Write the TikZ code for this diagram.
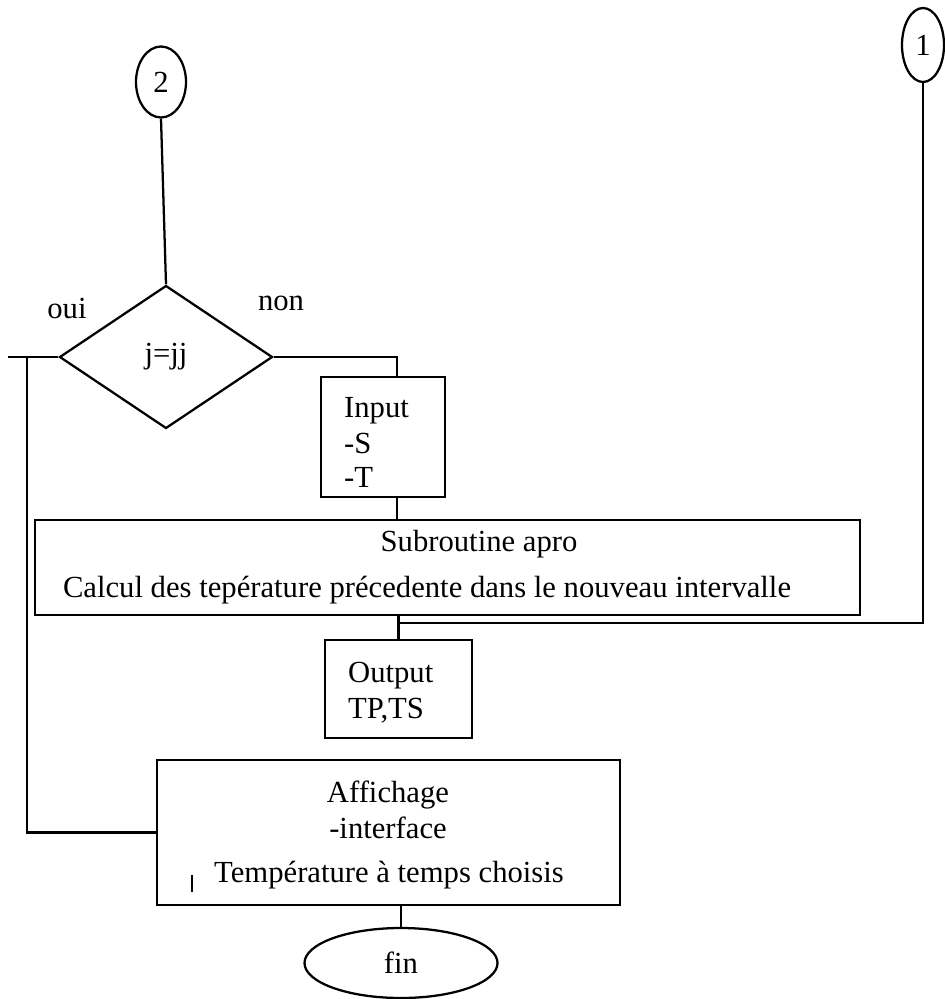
\documentclass[tikz,border=0pt]{standalone}
\usepackage{fontspec}
\setmainfont{Liberation Serif}
\usetikzlibrary{shapes.geometric}
\begin{document}
\begin{tikzpicture}[x=0.75pt,y=-0.75pt,
  line width=1.7pt,
  every node/.style={font=\fontsize{23}{27}\selectfont, inner sep=0pt},
  box/.style={draw, rectangle},
  oval/.style={draw, ellipse},
  txt/.style={anchor=base},
  ltxt/.style={anchor=base west}]
\useasboundingbox (0,0) rectangle (945,999);
% connectors' terminals
\node[oval, minimum width=37.5pt, minimum height=53.25pt] (c2) at (161,82) {2};
\node[oval, minimum width=31.5pt, minimum height=55.5pt] (c1) at (923,45) {1};
% decision
\node[draw, diamond, minimum width=159.75pt, minimum height=107.25pt] (d) at (166,357) {j=jj};
\node (oui) at (67,308) {oui};
\node (non) at (281,303) {non};
% boxes
\node[box, minimum width=93pt, minimum height=90pt] (inp) at (383,437) {};
\node[box, minimum width=618.75pt, minimum height=71.25pt] (sub) at (447.5,567.5) {};
\node[box, minimum width=110.25pt, minimum height=73.5pt] (out) at (398.5,689) {};
\node[box, minimum width=347.25pt, minimum height=108.75pt] (aff) at (388.5,832.5) {};
\node[oval, minimum width=144.75pt, minimum height=52.5pt] (fin) at (401,963) {fin};
% texts
\node[ltxt] (tin1) at (343,417) {Input};
\node[ltxt] (tin2) at (343,453) {-S};
\node[ltxt] (tin3) at (343,487) {-T};
\node[txt] (ts1) at (479,551) {Subroutine apro};
\node[txt] (ts2) at (427,597) {Calcul des tepérature précedente dans le nouveau intervalle};
\node[ltxt] (to1) at (347,682) {Output};
\node[ltxt] (to2) at (347,718) {TP,TS};
\node[txt] (ta1) at (388,802) {Affichage};
\node[txt] (ta2) at (388,838) {-interface};
\node[txt] (ta3) at (389,882) {Température à temps choisis};
\draw[line width=1.4pt] (192,875) -- (192,892);
% helper coordinates
\coordinate (lw) at (8,357);
\coordinate (lv) at (27,357);
\coordinate (jn) at (398.5,623);
% connectors
\draw (c2.south) -- (d.north);
\draw (d.east) -| ([xshift=10.5pt]inp.north);
\draw ([xshift=10.5pt]inp.south) -- ([xshift=10.5pt]inp.south |- sub.north);
\draw (out.north) -- (out.north |- sub.south);
\draw (c1.south) |- (jn);
\draw (d.west) -- (lw);
\draw (aff.west) -| (lv);
\draw (fin.north) -- (fin.north |- aff.south);
\end{tikzpicture}
\end{document}
